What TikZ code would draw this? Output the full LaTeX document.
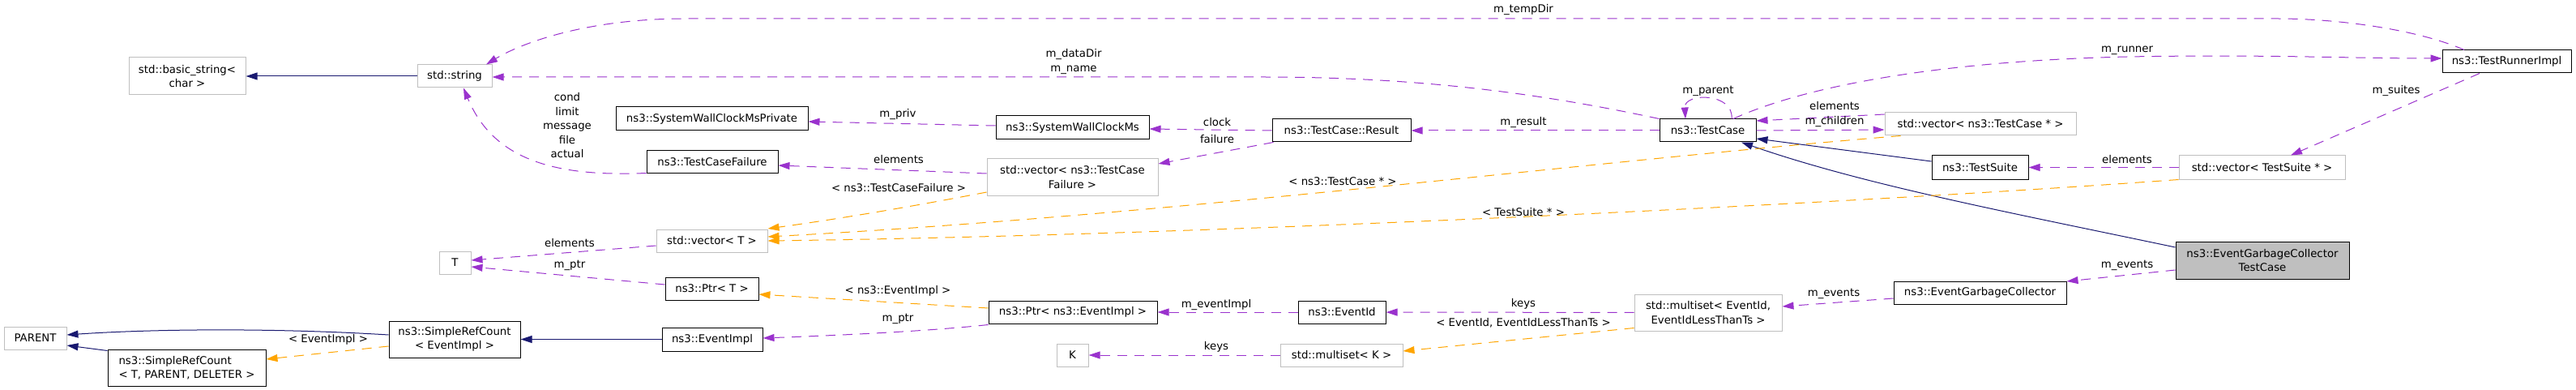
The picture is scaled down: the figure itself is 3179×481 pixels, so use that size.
\documentclass[tikz,border=0pt]{standalone}
\usepackage{fontspec}
\setmainfont{DejaVu Sans}
\usetikzlibrary{arrows.meta}
\definecolor{navyb}{HTML}{191970}
\definecolor{purp}{HTML}{9A32CD}
\definecolor{orng}{HTML}{FFA500}
\definecolor{grayb}{HTML}{BFBFBF}
\definecolor{fillg}{HTML}{BFBFBF}
\tikzset{
  box/.style={draw, line width=1pt, inner sep=0pt, align=center, font=\fontsize{13.3}{17.5}\selectfont},
  doc/.style={box, draw=black},
  undoc/.style={box, draw=grayb},
  sz/.style 2 args={minimum width=#1pt, minimum height=#2pt},
  lbl/.style={inner sep=0pt, align=center, font=\fontsize{13.3}{17.5}\selectfont},
  tipk/.style={-{Triangle[length=14pt,width=9pt]}},
  inh/.style={draw=navyb, line width=1pt, tipk},
  mem/.style={draw=purp, line width=1pt, dash pattern=on 12pt off 9pt, tipk},
  tmpl/.style={draw=orng, line width=1pt, dash pattern=on 12pt off 9pt, tipk},
}
\begin{document}
\begin{tikzpicture}[x=1pt,y=-1pt]
\useasboundingbox (0,0) rectangle (3179,481);

% nodes
\node[undoc, sz={144}{46}] (bstr) at (231,94) {std::basic\_string<\\char >};
\node[undoc, sz={92}{28}] (str) at (561,94) {std::string};
\node[doc, sz={237}{29}] (swcp) at (878.5,146.5) {ns3::SystemWallClockMsPrivate};
\node[doc, sz={189}{29}] (swc) at (1323.5,157.5) {ns3::SystemWallClockMs};
\node[doc, sz={162}{28}] (tcf) at (879,200) {ns3::TestCaseFailure};
\node[undoc, sz={211}{45}] (vtcf) at (1323.5,218.5) {std::vector< ns3::TestCase\\Failure >};
\node[doc, sz={171}{28}] (result) at (1655.5,161) {ns3::TestCase::Result};
\node[doc, sz={119}{28}] (tcase) at (2107.5,161) {ns3::TestCase};
\node[undoc, sz={236}{28}] (vtc) at (2444,153) {std::vector< ns3::TestCase * >};
\node[doc, sz={159}{28}] (runner) at (3093.5,76) {ns3::TestRunnerImpl};
\node[doc, sz={119}{29}] (suite) at (2443.5,206.5) {ns3::TestSuite};
\node[undoc, sz={205}{29}] (vts) at (2791.5,206.5) {std::vector< TestSuite * >};
\node[doc, sz={214}{46}, fill=fillg] (egctc) at (2792,321) {ns3::EventGarbageCollector\\TestCase};
\node[doc, sz={213}{28}] (egc) at (2443.5,361) {ns3::EventGarbageCollector};
\node[undoc, sz={182}{45}] (mset) at (2108,385.5) {std::multiset< EventId,\\EventIdLessThanTs >};
\node[doc, sz={108}{28}] (eid) at (1656,385) {ns3::EventId};
\node[undoc, sz={151}{28}] (msetk) at (1655.5,438) {std::multiset< K >};
\node[undoc, sz={39}{28}] (k) at (1323.5,438) {K};
\node[doc, sz={208}{28}] (ptre) at (1324,385) {ns3::Ptr< ns3::EventImpl >};
\node[doc, sz={115}{28}] (ptrt) at (878.5,356) {ns3::Ptr< T >};
\node[doc, sz={124}{29}] (eimpl) at (879,418.5) {ns3::EventImpl};
\node[undoc, sz={137}{28}] (vt) at (878.5,297) {std::vector< T >};
\node[undoc, sz={39}{28}] (t) at (561.5,324) {T};
\node[undoc, sz={77}{28}] (parent) at (43.5,417) {PARENT};
\node[doc, sz={162}{45}] (srce) at (561,418.5) {ns3::SimpleRefCount\\< EventImpl >};
\node[doc, sz={195}{45}, align=left] (srct) at (230.5,453.5) {ns3::SimpleRefCount\\< T, PARENT, DELETER >};

% inheritance
\draw[inh] (str) -- (bstr);
\draw[inh] ([yshift=7.5pt]suite.west) -- ([yshift=-10pt]tcase.east);
\draw[inh] ([yshift=16pt]egctc.west) .. controls (2480,262) and (2300,228) .. ([xshift=41.5pt]tcase.south);
\draw[inh] (eimpl) -- (srce);
\draw[inh] ([yshift=5.5pt]srce.west) .. controls (350,405) and (200,405) .. ([yshift=4pt]parent.east);
\draw[inh] ([yshift=-2pt]srct.north west) -- ([yshift=-9pt]parent.east);

% members
\draw[mem] ([xshift=-52.5pt]runner.north) .. controls (2980,35) and (2880,23) .. (2811,23) -- (846,23) .. controls (720,23) and (640,55) .. ([xshift=39pt]str.north);
\draw[mem] (tcase.north west) .. controls (1900,115) and (1750,95) .. (1560,95) -- ([yshift=-1pt]str.east);
\draw[mem] ([yshift=2.5pt]swc.west) -- ([yshift=-3.5pt]swcp.east);
\draw[mem] (result.west) -- ([yshift=-1.5pt]swc.east);
\draw[mem] ([xshift=2pt]result.south west) -- ([yshift=16.5pt]vtcf.east);
\draw[mem] ([yshift=4.5pt]vtcf.west) -- ([yshift=-4pt]tcf.east);
\draw[mem] ([yshift=1pt]tcf.south west) .. controls (690,218) and (610,200) .. ([xshift=11pt]str.south);
\draw[mem] ([yshift=-6pt]vt.west) -- ([yshift=3pt]t.east);
\draw[mem] ([yshift=5pt]ptrt.west) -- ([yshift=-5pt]t.east);
\draw[mem] (tcase) -- (result);
\draw[mem] ([xshift=29.5pt]tcase.north) .. controls (2140,114) and (2078,114) .. ([xshift=-27.5pt]tcase.north);
\draw[mem] ([yshift=12pt]vtc.west) -- ([yshift=12pt]tcase.east);
\draw[mem] (tcase.east) -- ([yshift=-7pt]vtc.west);
\draw[mem] ([xshift=31.5pt]tcase.north) .. controls (2230,105) and (2400,75) .. (2625,70) .. controls (2800,67) and (2900,72) .. ([yshift=4pt]runner.west);
\draw[mem] ([xshift=-33.5pt]runner.south) -- ([xshift=35.5pt]vts.north);
\draw[mem] (vts) -- (suite);
\draw[mem] ([yshift=-12pt]egctc.west) -- ([yshift=14pt]egc.east);
\draw[mem] ([yshift=-7pt]egc.west) -- ([yshift=7.5pt]mset.east);
\draw[mem] (mset) -- (eid);
\draw[mem] (eid) -- (ptre);
\draw[mem] ([yshift=-1pt]ptre.south west) .. controls (1150,408) and (1050,413) .. ([yshift=1.5pt]eimpl.east);
\draw[mem] (msetk) -- (k);

% template instances
\draw[tmpl] ([yshift=-18.5pt]vtcf.west) .. controls (1150,250) and (1050,268) .. ([yshift=15pt]vt.east);
\draw[tmpl] ([xshift=20pt]vtc.south west) .. controls (1950,200) and (1450,265) .. ([yshift=5pt]vt.east);
\draw[tmpl] (vts.south west) .. controls (2300,250) and (1500,290) .. (vt.east);
\draw[tmpl] ([yshift=5pt]ptre.west) -- ([yshift=-7pt]ptrt.east);
\draw[tmpl] ([yshift=4pt]mset.south west) -- ([yshift=5pt]msetk.east);
\draw[tmpl] ([yshift=-8.5pt]srce.west) -- ([yshift=10.5pt]srct.east);

% labels
\node[lbl] (l1) at (1880,12) {m\_tempDir};
\node[lbl] (l2) at (1325,76) {m\_dataDir\\m\_name};
\node[lbl] (l3) at (700,155) {cond\\limit\\message\\file\\actual};
\node[lbl] (l4) at (1108,141) {m\_priv};
\node[lbl] (l5) at (1502,151) {clock};
\node[lbl] (l6) at (1502,172) {failure};
\node[lbl] (l7) at (1109,197) {elements};
\node[lbl] (l8) at (1109,232) {< ns3::TestCaseFailure >};
\node[lbl] (l9) at (1880,151) {m\_result};
\node[lbl] (l10) at (2108,112) {m\_parent};
\node[lbl] (l11) at (2264,131) {elements};
\node[lbl] (l12) at (2264,150) {m\_children};
\node[lbl] (l13) at (2625,62) {m\_runner};
\node[lbl] (l14) at (1657,224) {< ns3::TestCase * >};
\node[lbl] (l15) at (2957,112) {m\_suites};
\node[lbl] (l16) at (2625,197) {elements};
\node[lbl] (l17) at (1880,262) {< TestSuite * >};
\node[lbl] (l18) at (2625,327) {m\_events};
\node[lbl] (l19) at (2263,362) {m\_events};
\node[lbl] (l20) at (1880,375) {keys};
\node[lbl] (l21) at (1880,398) {< EventId, EventIdLessThanTs >};
\node[lbl] (l22) at (1501,376) {m\_eventImpl};
\node[lbl] (l23) at (1108,359) {< ns3::EventImpl >};
\node[lbl] (l24) at (1108,393) {m\_ptr};
\node[lbl] (l25) at (1501,428) {keys};
\node[lbl] (l26) at (703,300) {elements};
\node[lbl] (l27) at (703,327) {m\_ptr};
\node[lbl] (l28) at (405,419) {< EventImpl >};
\end{tikzpicture}
\end{document}
